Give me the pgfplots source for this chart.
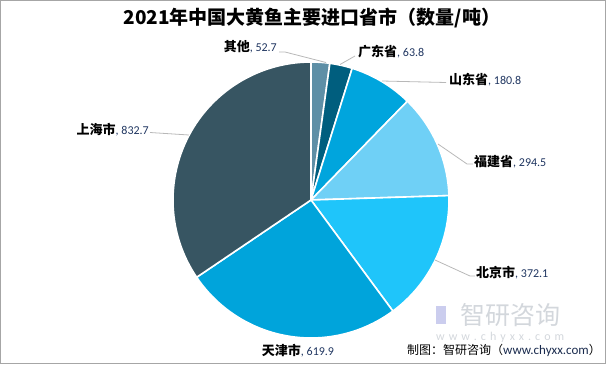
\documentclass[border=0pt]{standalone}
\usepackage{pgfplots}
\usepackage{pgfplotstable}
\pgfplotsset{compat=1.18}
\usepackage{fontspec}
\setmainfont{Noto Sans CJK SC}
\newfontfamily\num{Carlito}
\definecolor{c0}{HTML}{5E8FA6}
\definecolor{c1}{HTML}{005E7E}
\definecolor{c2}{HTML}{00A5DD}
\definecolor{c3}{HTML}{6FD0F6}
\definecolor{c4}{HTML}{1FC5FA}
\definecolor{c5}{HTML}{00A4DB}
\definecolor{c6}{HTML}{375562}
\definecolor{valc}{HTML}{1F3560}
\definecolor{leader}{HTML}{B8B8B8}
\definecolor{wm}{HTML}{D3D7DC}
\pgfplotstableread{
name value
其他 52.7
广东省 63.8
山东省 180.8
福建省 294.5
北京市 372.1
天津市 619.9
上海市 832.7
}\piedata
\newcommand\lab[2]{{\fontsize{13bp}{15bp}\selectfont\bfseries #1}{\num\fontsize{12bp}{13bp}\selectfont\color{valc}, #2}}
\begin{document}
\begin{tikzpicture}
\begin{axis}[x=1bp,y=1bp,xmin=0,xmax=606,ymin=0,ymax=364,hide axis,clip=false,
  axis line style={draw=none}]
\pgfplotsextra{%
  \pgfplotstablegetrowsof{\piedata}%
  \pgfmathtruncatemacro\N{\pgfplotsretval-1}%
  \gdef\tot{0}%
  \foreach \i in {0,...,\N}{%
    \pgfplotstablegetelem{\i}{value}\of\piedata
    \pgfmathsetmacro\t{\tot+\pgfplotsretval}\xdef\tot{\t}}%
  \gdef\cum{0}%
  \foreach \i in {0,...,\N}{%
    \pgfplotstablegetelem{\i}{value}\of\piedata
    \let\v\pgfplotsretval
    \pgfmathsetmacro\a{90-\cum/\tot*360}%
    \pgfmathsetmacro\b{90-(\cum+\v)/\tot*360}%
    \fill[c\i, draw=white, line width=1.6bp] (axis cs:311,164) -- ++(\a:138bp) arc[start angle=\a, end angle=\b, radius=138bp] -- cycle;
    \pgfmathsetmacro\nc{\cum+\v}\xdef\cum{\nc}}%
}
% leader lines
\draw[leader,line width=0.8bp] (axis cs:279,312) -- (axis cs:285,312) -- (axis cs:326,301.5);
\draw[leader,line width=0.8bp] (axis cs:355,308) -- (axis cs:340,299.5);
\draw[leader,line width=0.8bp] (axis cs:382,283) -- (axis cs:446,281.5);
\draw[leader,line width=0.8bp] (axis cs:438,220) -- (axis cs:467,200) -- (axis cs:473,200);
\draw[leader,line width=0.8bp] (axis cs:435,104) -- (axis cs:470,88) -- (axis cs:475,88);
\draw[leader,line width=0.8bp] (axis cs:150,231.5) -- (axis cs:189,229);
% labels
\node[anchor=east,inner sep=0pt] at (axis cs:277,317) {\lab{其他}{52.7}};
\node[anchor=west,inner sep=0pt] at (axis cs:358,312) {\lab{广东省}{63.8}};
\node[anchor=west,inner sep=0pt] at (axis cs:449,284) {\lab{山东省}{180.8}};
\node[anchor=west,inner sep=0pt] at (axis cs:474,202) {\lab{福建省}{294.5}};
\node[anchor=west,inner sep=0pt] at (axis cs:476,91) {\lab{北京市}{372.1}};
\node[anchor=center,inner sep=0pt] at (axis cs:298,13) {\lab{天津市}{619.9}};
\node[anchor=east,inner sep=0pt] at (axis cs:149,234) {\lab{上海市}{832.7}};
% title
\node[anchor=center,inner sep=0pt] at (axis cs:312,346) {\fontsize{19bp}{20bp}\selectfont\bfseries 2021年中国大黄鱼主要进口省市（数量/吨）};
% watermark
\node[anchor=west,inner sep=0pt,text=wm] at (axis cs:460,49) {\fontsize{25bp}{27bp}\selectfont 智研咨询};
\node[anchor=west,inner sep=0pt,text=wm] at (axis cs:436,27) {\num\fontsize{12bp}{13bp}\selectfont w\,\,w\,\,w\,\,.\,\,c\,\,h\,\,y\,\,x\,\,x\,\,.\,\,c\,\,o\,\,m};
\fill[wm!80!blue!60] (axis cs:436,40) rectangle (axis cs:446,58);
% credit
\node[anchor=east,inner sep=0pt] at (axis cs:601,14) {\fontsize{12bp}{14bp}\selectfont 制图：智研咨询（{\num\fontsize{13bp}{14bp}\selectfont\color{valc!80!black}www.chyxx.com}）};
% border
\draw[gray!70,line width=1bp] (axis cs:0.5,0.5) rectangle (axis cs:605.5,363.5);
\end{axis}
\end{tikzpicture}
\end{document}
